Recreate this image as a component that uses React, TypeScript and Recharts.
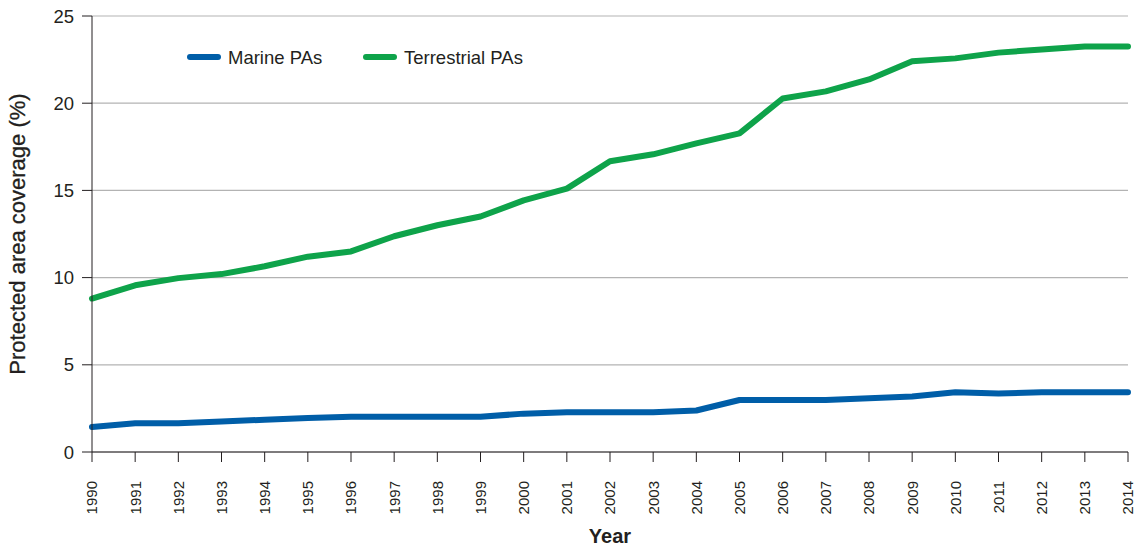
import { LineChart, Line, XAxis, YAxis, CartesianGrid, Legend, Label } from 'recharts';

const YEARS = [
  1990, 1991, 1992, 1993, 1994, 1995, 1996, 1997, 1998, 1999, 2000, 2001, 2002,
  2003, 2004, 2005, 2006, 2007, 2008, 2009, 2010, 2011, 2012, 2013, 2014,
];
const MARINE = [
  1.43, 1.65, 1.65, 1.75, 1.85, 1.95, 2.02, 2.02, 2.02, 2.02, 2.2, 2.28, 2.28,
  2.28, 2.38, 2.98, 2.98, 2.98, 3.08, 3.18, 3.43, 3.35, 3.43, 3.43, 3.43,
];
const TERRESTRIAL = [
  8.8, 9.56, 9.97, 10.2, 10.65, 11.2, 11.5, 12.37, 13.0, 13.5, 14.43, 15.1, 16.67,
  17.07, 17.7, 18.27, 20.27, 20.68, 21.36, 22.4, 22.57, 22.9, 23.08, 23.25, 23.25,
];
const Y_TICKS = [0, 5, 10, 15, 20, 25];

const BLUE = '#005ea8';
const GREEN = '#0ea34a';
const FONT = '"Liberation Sans", Arial, sans-serif';

const data = YEARS.map((year, i) => ({ year, marine: MARINE[i], terrestrial: TERRESTRIAL[i] }));

function YearTick({ x, y, payload }: any) {
  return (
    <text
      x={x}
      y={y + 17}
      dy="0.36em"
      transform={`rotate(-90, ${x}, ${y + 17})`}
      textAnchor="end"
      fontSize={15}
      fontFamily={FONT}
      fill="#231f20"
    >
      {payload.value}
    </text>
  );
}

function LegendContent() {
  const items = [
    { name: 'Marine PAs', color: BLUE, x: 190 },
    { name: 'Terrestrial PAs', color: GREEN, x: 366 },
  ];
  return (
    <svg width={600} height={30} style={{ overflow: 'visible', position: 'absolute', left: 0, top: 0 }}>
      {items.map((it) => (
        <g key={it.name}>
          <line x1={it.x - 188} x2={it.x - 160} y1={12} y2={12} stroke={it.color} strokeWidth={6} strokeLinecap="round" />
          <text x={it.x - 150} y={18.5} fontSize={18.5} fontFamily={FONT} fill="#231f20">
            {it.name}
          </text>
        </g>
      ))}
    </svg>
  );
}

export default function App() {
  return (
    <div style={{ position: 'absolute', left: 0, top: 0, width: 1139, height: 549, background: '#fff' }}>
      <LineChart width={1139} height={549} data={data} margin={{ top: 16, right: 11, left: 0, bottom: 0 }}>
        <CartesianGrid vertical={false} stroke="#b3b3b3" strokeWidth={1.2} />
        <XAxis
          dataKey="year"
          type="number"
          domain={[1990, 2014]}
          ticks={YEARS}
          interval={0}
          height={97}
          tickSize={10}
          stroke="#231f20"
          tick={<YearTick />}
        >
          <Label value="Year" position="insideBottom" offset={6} fontSize={20} fontWeight={600} fontFamily={FONT} fill="#231f20" />
        </XAxis>
        <YAxis
          domain={[0, 25]}
          ticks={Y_TICKS}
          width={92}
          tickSize={10}
          tickMargin={8}
          stroke="#231f20"
          tick={{ fontSize: 18.5, fontFamily: FONT, fill: '#231f20' }}
        >
          <Label
            value="Protected area coverage (%)"
            angle={-90}
            position="insideLeft"
            dx={12}
            fontSize={22}
            fontFamily={FONT}
            fill="#231f20"
            stroke="#231f20"
            strokeWidth={0.3}
            style={{ textAnchor: 'middle' }}
          />
        </YAxis>
        <Legend
          verticalAlign="top"
          content={<LegendContent />}
          wrapperStyle={{ position: 'absolute', left: 188, top: 45, width: 600, height: 0, overflow: 'visible' }}
        />
        <Line dataKey="marine" stroke={BLUE} strokeWidth={6} dot={false} strokeLinecap="round" strokeLinejoin="round" isAnimationActive={false} />
        <Line dataKey="terrestrial" stroke={GREEN} strokeWidth={6} dot={false} strokeLinecap="round" strokeLinejoin="round" isAnimationActive={false} />
      </LineChart>
    </div>
  );
}
